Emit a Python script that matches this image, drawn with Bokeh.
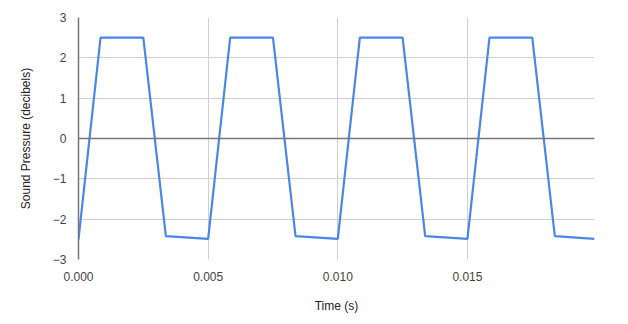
from bokeh.plotting import figure
from bokeh.models import FixedTicker, PrintfTickFormatter, Span
from bokeh.embed import file_html
from bokeh.resources import INLINE

# Data
time_s = [0.0, 0.00085, 0.0025, 0.00337,
          0.005, 0.00585, 0.0075, 0.00837,
          0.010, 0.01085, 0.0125, 0.01337,
          0.015, 0.01585, 0.0175, 0.01837,
          0.0199]
pressure_db = [-2.5, 2.5, 2.5, -2.42,
               -2.49, 2.5, 2.5, -2.42,
               -2.49, 2.5, 2.5, -2.42,
               -2.49, 2.5, 2.5, -2.42,
               -2.49]
x_ticks = [0.0, 0.005, 0.010, 0.015]
y_ticks = [-3, -2, -1, 0, 1, 2, 3]

FONT = "Liberation Sans"

p = figure(width=628, height=324, output_backend="svg", toolbar_location=None,
           x_range=(0.0, 0.0199), y_range=(-3, 3),
           min_border_left=78, min_border_right=34,
           min_border_top=17, min_border_bottom=65)
p.outline_line_color = None
p.background_fill_color = "white"
p.border_fill_color = "white"

p.line(time_s, pressure_db, line_color="#4a86e8", line_width=2.2)

p.xaxis.ticker = FixedTicker(ticks=x_ticks)
p.xaxis.formatter = PrintfTickFormatter(format="%.3f")
p.yaxis.ticker = FixedTicker(ticks=y_ticks)

for ax in (p.xaxis[0], p.yaxis[0]):
    ax.major_tick_line_color = None
    ax.minor_tick_line_color = None
    ax.major_label_text_font = FONT
    ax.major_label_text_font_size = "12px"
    ax.major_label_text_color = "#444444"
    ax.axis_label_text_font = FONT
    ax.axis_label_text_font_size = "12px"
    ax.axis_label_text_font_style = "normal"
    ax.axis_label_text_color = "#222222"
    ax.major_label_standoff = 6

p.xaxis.axis_line_color = None
p.yaxis.axis_line_color = "#777777"
p.yaxis.axis_line_width = 1.5
p.xaxis.axis_label = "Time (s)"
p.yaxis.axis_label = "Sound Pressure (decibels)"
p.xaxis.axis_label_standoff = 15
p.yaxis.axis_label_standoff = 17

p.xgrid.grid_line_color = "#d0d0d0"
p.ygrid.grid_line_color = "#d0d0d0"

p.add_layout(Span(location=0, dimension="width", line_color="#777777", line_width=1.5))

open("out.html", "w").write(file_html(p, INLINE))
